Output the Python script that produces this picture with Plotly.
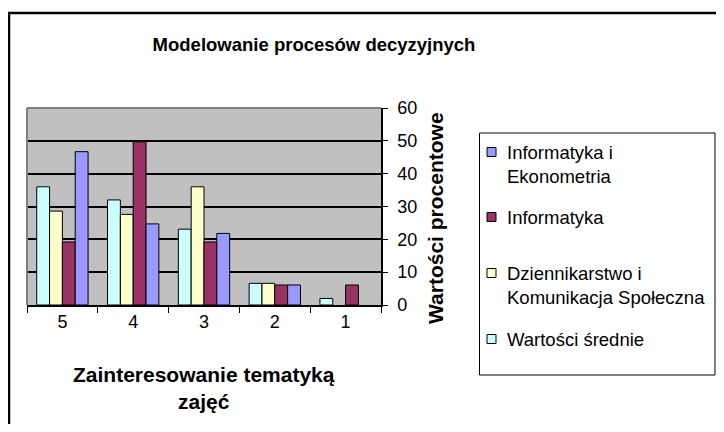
import plotly.graph_objects as go

# ---- data ----
categories = ["5", "4", "3", "2", "1"]
series_names = [
    "Wartości średnie",
    "Dziennikarstwo i<br>Komunikacja Społeczna",
    "Informatyka",
    "Informatyka i<br>Ekonometria",
]
wartosci_srednie = [36.0, 32.0, 23.1, 6.6, 2.0]
dziennikarstwo = [28.6, 27.6, 36.0, 6.6, None]
informatyka = [19.2, 49.7, 19.2, 6.1, 6.1]
inf_ekonometria = [46.7, 24.7, 21.8, 6.1, None]
colors = ["#CCFFFF", "#FFFFCC", "#993366", "#9999FF"]
y_ticks = [0, 10, 20, 30, 40, 50, 60]

OFF = 8  # page body margin
W_FIG, H_FIG = 724 - 2 * OFF, 432 - 2 * OFF
# plot area in page px
L, R, T, B = 27, 381, 108, 305


def px2x(px):
    return (px - L) / (R - L)


def px2y(py):
    return (B - py) / (B - T)


fig = go.Figure()
for name, vals, col in zip(series_names,
                           [wartosci_srednie, dziennikarstwo, informatyka, inf_ekonometria],
                           colors):
    fig.add_trace(go.Bar(x=categories, y=vals, name=name,
                         marker=dict(color=col, line=dict(color="black", width=1)),
                         showlegend=False))

shapes = []
annotations = []

# outer chart border
shapes.append(dict(type="rect", xref="paper", yref="paper",
                   x0=px2x(9), x1=px2x(760), y0=px2y(13), y1=px2y(460),
                   line=dict(color="black", width=2.5), layer="above"))
# plot-area top/left gray edges
shapes.append(dict(type="line", xref="paper", yref="paper", x0=0, x1=1, y0=1, y1=1,
                   line=dict(color="#808080", width=2), layer="above"))
shapes.append(dict(type="line", xref="paper", yref="paper", x0=0, x1=0, y0=0, y1=1,
                   line=dict(color="#808080", width=2), layer="above"))

# legend box (manual, reversed order as in original)
shapes.append(dict(type="rect", xref="paper", yref="paper",
                   x0=px2x(479.5), x1=px2x(715), y0=px2y(375), y1=px2y(133),
                   line=dict(color="black", width=1), fillcolor="white", layer="above"))
legend_rows = [152, 217, 273, 339]  # first-line centre of each entry
legend_order = [3, 2, 1, 0]
for row_y, idx in zip(legend_rows, legend_order):
    shapes.append(dict(type="rect", xref="paper", yref="paper",
                       x0=px2x(487), x1=px2x(496), y0=px2y(row_y + 4.5), y1=px2y(row_y - 4.5),
                       line=dict(color="black", width=1), fillcolor=colors[idx], layer="above"))
    annotations.append(dict(xref="paper", yref="paper", x=px2x(505), y=px2y(row_y - 12),
                            xanchor="left", yanchor="top", align="left",
                            text=series_names[idx], showarrow=False,
                            font=dict(family="Liberation Sans, Arial", size=18.5, color="black")))

# axis titles
annotations.append(dict(xref="paper", yref="paper", x=px2x(435), y=0.5 * (px2y(112) + px2y(324)),
                        text="<b>Wartości procentowe</b>", textangle=-90, showarrow=False,
                        xanchor="center", yanchor="middle",
                        font=dict(family="Liberation Sans, Arial", size=21, color="black")))
annotations.append(dict(xref="paper", yref="paper", x=0.5, y=px2y(388),
                        text="<b>Zainteresowanie tematyką<br>zajęć</b>", showarrow=False,
                        xanchor="center", yanchor="middle",
                        font=dict(family="Liberation Sans, Arial", size=21, color="black")))

fig.update_layout(
    width=W_FIG, height=H_FIG,
    margin=dict(l=L - OFF, r=W_FIG - (R - OFF), t=T - OFF, b=H_FIG - (B - OFF), pad=0),
    paper_bgcolor="white", plot_bgcolor="#C0C0C0",
    barmode="group", bargap=0.275, bargroupgap=0,
    title=dict(text="<b>Modelowanie procesów decyzyjnych</b>",
               x=(314 - OFF) / W_FIG, xanchor="center", y=1 - (45 - OFF) / H_FIG, yanchor="middle",
               font=dict(family="Liberation Sans, Arial", size=18.5, color="black")),
    shapes=shapes, annotations=annotations,
    xaxis=dict(type="category", showline=True, linecolor="black", linewidth=1.5,
               ticks="outside", tickson="boundaries", ticklen=6, tickcolor="black",
               showgrid=False, tickfont=dict(family="Liberation Sans, Arial", size=18, color="black")),
    yaxis=dict(side="right", range=[0, 60], tickvals=y_ticks, showline=True,
               linecolor="black", linewidth=1.5, ticks="outside", ticklen=5, tickcolor="black",
               showgrid=True, gridcolor="black", gridwidth=1.5, zeroline=False,
               ticklabelstandoff=6,
               tickfont=dict(family="Liberation Sans, Arial", size=18, color="black")),
    font=dict(family="Liberation Sans, Arial", color="black"),
)

fig.write_html("out.html")
